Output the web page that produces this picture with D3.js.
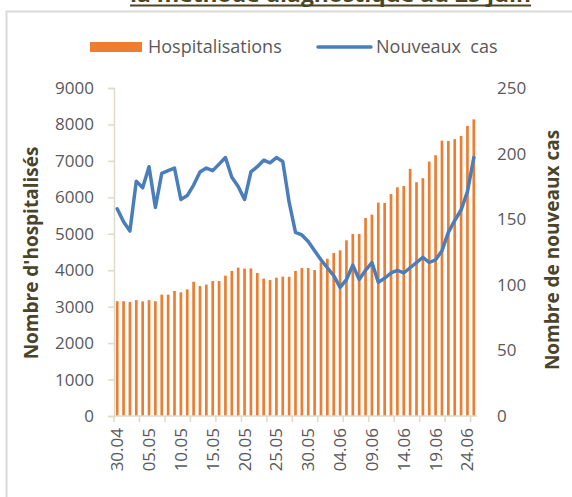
<!DOCTYPE html>
<html>
<head>
<meta charset="utf-8" />
<style>
  body { margin: 0; background: #fff; }
  svg { display: block; }
  text { font-family: "Open Sans", "DejaVu Sans", sans-serif; }
</style>
</head>
<body>
<div id="chart"></div>
<script src="https://d3js.org/d3.v7.min.js"></script>
<script>
// categories (dates)
var dates = ["30.04",
  "01.05","02.05","03.05","04.05","05.05","06.05","07.05","08.05","09.05","10.05",
  "11.05","12.05","13.05","14.05","15.05","16.05","17.05","18.05","19.05","20.05",
  "21.05","22.05","23.05","24.05","25.05","26.05","27.05","28.05","29.05","30.05","31.05",
  "01.06","02.06","03.06","04.06","05.06","06.06","07.06","08.06","09.06","10.06",
  "11.06","12.06","13.06","14.06","15.06","16.06","17.06","18.06","19.06","20.06",
  "21.06","22.06","23.06","24.06","25.06"];

// hospitalisations (bars, left axis)
var hospitalisations = [3150, 3150, 3130, 3180, 3145, 3180, 3150, 3330, 3330, 3430,
  3395, 3475, 3685, 3565, 3605, 3705, 3705, 3850, 3980, 4070,
  4045, 4050, 3925, 3770, 3730, 3795, 3825, 3820, 3980, 4060,
  4060, 4005, 4215, 4315, 4470, 4545, 4820, 4995, 4995, 5435,
  5525, 5855, 5845, 6090, 6275, 6310, 6780, 6415, 6525, 6980,
  7155, 7555, 7545, 7595, 7685, 7960, 8140];

// nouveaux cas (line, right axis)
var nouveauxCas = [158, 148, 141, 179, 174, 190, 159, 185, 187, 189,
  165, 168, 176, 186, 189, 187, 192, 197, 182, 175,
  165, 186, 190, 195, 193, 197, 194, 163, 140, 138,
  133, 126, 119, 113, 107, 98, 104, 115, 104, 111,
  117, 102, 105, 109, 111, 109, 113, 117, 121, 117,
  119, 126, 140, 149, 157, 171, 197];

var leftTicks = [0, 1000, 2000, 3000, 4000, 5000, 6000, 7000, 8000, 9000];
var rightTicks = [0, 50, 100, 150, 200, 250];

var width = 572, height = 497;
var plot = { left: 114, right: 477, top: 88, bottom: 416 };

var svg = d3.select("#chart").append("svg")
  .attr("width", width)
  .attr("height", height);

// frame of the chart area
svg.append("rect")
  .attr("x", 6.5).attr("y", 11.5)
  .attr("width", 600).attr("height", 520)
  .attr("fill", "none")
  .attr("stroke", "#d9d9d9")
  .attr("stroke-width", 2);

// title, only its last line shows at the top
svg.append("text")
  .attr("x", 130).attr("y", 2)
  .attr("textLength", 401)
  .attr("lengthAdjust", "spacingAndGlyphs")
  .attr("font-size", 21)
  .attr("font-weight", "bold")
  .attr("fill", "#4b4526")
  .text("la méthode diagnostique au 25 juin");
svg.append("line")
  .attr("x1", 130).attr("x2", 531)
  .attr("y1", 5.5).attr("y2", 5.5)
  .attr("stroke", "#4b4526")
  .attr("stroke-width", 2);

// scales
var x = d3.scaleBand()
  .domain(dates)
  .range([plot.left, plot.right])
  .paddingInner(0.58)
  .paddingOuter(0.29);

var yLeft = d3.scaleLinear().domain([0, 9000]).range([plot.bottom, plot.top]);
var yRight = d3.scaleLinear().domain([0, 250]).range([plot.bottom, plot.top]);

// bars
svg.append("g").selectAll("rect")
  .data(hospitalisations)
  .enter().append("rect")
  .attr("x", function(d, i) { return x(dates[i]); })
  .attr("y", function(d) { return yLeft(d); })
  .attr("width", x.bandwidth())
  .attr("height", function(d) { return yLeft(0) - yLeft(d); })
  .attr("fill", "#ed7d31");

// left axis
var axL = svg.append("g")
  .attr("transform", "translate(" + plot.left + ",0)")
  .call(d3.axisLeft(yLeft).tickValues(leftTicks).tickSize(6).tickPadding(14).tickFormat(d3.format("d")));
axL.select(".domain").attr("stroke", "#dedbc8").attr("stroke-width", 1.5);
axL.selectAll(".tick line").attr("stroke", "#dedbc8").attr("stroke-width", 1.5);
axL.selectAll("text").attr("fill", "#595959").attr("font-size", 17)
  .attr("font-family", "Open Sans, sans-serif");

// right axis (labels only)
var axR = svg.append("g")
  .attr("transform", "translate(" + plot.right + ",0)")
  .call(d3.axisRight(yRight).tickValues(rightTicks).tickSize(0).tickPadding(20));
axR.select(".domain").remove();
axR.selectAll("text").attr("fill", "#595959").attr("font-size", 17)
  .attr("font-family", "Open Sans, sans-serif");

// bottom axis: labels every 5 days, tick marks every 4 categories
var labelDates = dates.filter(function(d, i) { return i % 5 === 0 && i < 56; });
var axB = svg.append("g")
  .attr("transform", "translate(0," + plot.bottom + ")")
  .call(d3.axisBottom(x).tickValues(labelDates).tickSize(0).tickPadding(0));
axB.select(".domain").remove();
axB.selectAll("text")
  .attr("fill", "#595959").attr("font-size", 17)
  .attr("font-family", "Open Sans, sans-serif")
  .attr("text-anchor", "end")
  .attr("transform", "translate(0,12) rotate(-90)")
  .attr("dx", 0).attr("dy", "0.35em").attr("y", 0).attr("x", 0);

var gTicks = svg.append("g");
d3.range(0, dates.length + 1, 4).forEach(function(i) {
  var px = x.range()[0] + i * x.step();
  gTicks.append("line")
    .attr("x1", px).attr("x2", px)
    .attr("y1", plot.bottom).attr("y2", plot.bottom + 6)
    .attr("stroke", "#dedbc8").attr("stroke-width", 1.5);
});
svg.append("line")
  .attr("x1", plot.left).attr("x2", plot.right)
  .attr("y1", plot.bottom).attr("y2", plot.bottom)
  .attr("stroke", "#dedbc8").attr("stroke-width", 1.5);

// line
var line = d3.line()
  .x(function(d, i) { return x(dates[i]) + x.bandwidth() / 2; })
  .y(function(d) { return yRight(d); });

svg.append("path")
  .datum(nouveauxCas)
  .attr("d", line)
  .attr("fill", "none")
  .attr("stroke", "#4a7ebb")
  .attr("stroke-width", 3.5)
  .attr("stroke-linejoin", "round")
  .attr("stroke-linecap", "round");

// axis titles
svg.append("text")
  .attr("transform", "translate(38,253) rotate(-90)")
  .attr("text-anchor", "middle")
  .attr("font-size", 19).attr("font-weight", "bold")
  .attr("fill", "#49442a")
  .text("Nombre d'hospitalisés");

svg.append("text")
  .attr("transform", "translate(559,250) rotate(-90)")
  .attr("text-anchor", "middle")
  .attr("font-size", 19).attr("font-weight", "bold")
  .attr("fill", "#49442a")
  .text("Nombre de nouveaux cas");

// legend
var legend = svg.append("g").attr("font-size", 18).attr("fill", "#595959");
legend.append("rect")
  .attr("x", 90).attr("y", 42).attr("width", 52).attr("height", 10)
  .attr("fill", "#ed7d31");
legend.append("text").attr("x", 148).attr("y", 53)
  .attr("fill", "#595959").text("Hospitalisations");
legend.append("line")
  .attr("x1", 318).attr("x2", 371).attr("y1", 47).attr("y2", 47)
  .attr("stroke", "#4a7ebb").attr("stroke-width", 3.5).attr("stroke-linecap", "round");
legend.append("text").attr("x", 376).attr("y", 53)
  .attr("fill", "#595959").attr("xml:space", "preserve").text("Nouveaux  cas");
</script>
</body>
</html>
